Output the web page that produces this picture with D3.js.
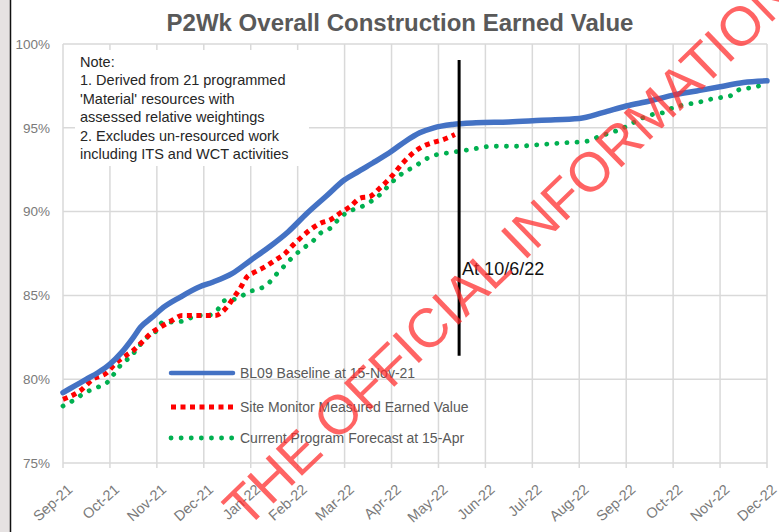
<!DOCTYPE html>
<html>
<head>
<meta charset="utf-8">
<script src="https://cdn.jsdelivr.net/npm/d3@7"></script>
<style>
  body { margin: 0; background: #fff; }
  svg { display: block; font-family: Arial, "Liberation Sans", sans-serif; }
</style>
</head>
<body>
<div id="wrapper"></div>
<script>
// month labels on the x axis (index 0 = Sep-21)
const monthLabels = ["Sep-21", "Oct-21", "Nov-21", "Dec-21", "Jan-22", "Feb-22", "Mar-22", "Apr-22",
  "May-22", "Jun-22", "Jul-22", "Aug-22", "Sep-22", "Oct-22", "Nov-22", "Dec-22"];
const yTicks = [75, 80, 85, 90, 95, 100];

// [month index, percent]
const baseline = [
  [0, 79.2], [0.25, 79.6], [0.5, 80.0], [0.75, 80.4], [1.0, 80.9], [1.25, 81.6], [1.5, 82.5],
  [1.65, 83.1], [1.9, 83.7], [2.1, 84.2], [2.5, 84.9], [2.9, 85.5], [3.2, 85.8], [3.6, 86.3],
  [4.0, 87.1], [4.4, 87.9], [4.8, 88.8], [5.2, 89.9], [5.6, 90.9], [6.0, 91.9], [6.3, 92.4],
  [6.6, 92.9], [7.0, 93.6], [7.3, 94.2], [7.6, 94.7], [7.9, 95.0], [8.3, 95.2], [8.8, 95.3],
  [9.5, 95.35], [10.2, 95.45], [11.0, 95.55], [11.5, 95.9], [12.0, 96.3], [12.5, 96.6],
  [13.0, 96.95], [13.5, 97.2], [14.0, 97.45], [14.5, 97.7], [15.0, 97.8]
];

const siteMonitor = [
  [0, 78.8], [0.36, 79.3], [0.64, 80.0], [0.94, 80.4], [1.07, 80.8], [1.28, 81.3], [1.49, 81.7],
  [1.68, 82.2], [1.9, 82.8], [2.07, 83.1], [2.32, 83.5], [2.54, 83.8], [2.77, 83.8], [2.98, 83.8],
  [3.24, 83.8], [3.49, 84.3], [3.62, 84.8], [3.77, 85.4], [3.92, 86.1], [4.09, 86.4], [4.3, 86.7],
  [4.52, 87.1], [4.73, 87.5], [4.9, 88.0], [5.09, 88.5], [5.26, 88.9], [5.48, 89.3], [5.69, 89.5],
  [5.9, 89.9], [6.12, 90.3], [6.33, 90.8], [6.54, 90.9], [6.75, 91.4], [6.97, 92.0], [7.24, 92.9],
  [7.46, 93.5], [7.67, 93.9], [7.86, 94.1], [8.1, 94.3], [8.35, 94.6]
];

const forecast = [
  [0, 78.4], [0.26, 78.8], [0.47, 79.2], [0.72, 79.5], [0.94, 79.8], [1.11, 80.4], [1.28, 81.0],
  [1.43, 81.3], [1.6, 81.9], [1.79, 82.5], [1.96, 82.8], [2.13, 83.4], [2.34, 83.4], [2.6, 83.5],
  [2.86, 83.8], [3.07, 83.8], [3.28, 84.1], [3.45, 84.7], [3.71, 84.8], [3.94, 85.2], [4.2, 85.4],
  [4.37, 85.7], [4.56, 86.3], [4.73, 86.8], [4.9, 87.3], [5.11, 87.8], [5.31, 88.2], [5.48, 88.7],
  [5.69, 89.0], [5.86, 89.5], [6.07, 90.0], [6.29, 90.2], [6.5, 90.5], [6.75, 91.0], [6.99, 91.7],
  [7.24, 92.3], [7.5, 92.7], [7.71, 93.1], [7.97, 93.4], [8.2, 93.5], [8.67, 93.7], [9.16, 93.9],
  [9.67, 93.9], [10.16, 94.0], [10.65, 94.1], [11.17, 94.2], [11.44, 94.5], [11.66, 94.7],
  [11.87, 94.9], [12.08, 95.2], [12.36, 95.6], [12.57, 95.8], [12.78, 95.9], [13.0, 96.2],
  [13.3, 96.4], [13.51, 96.5], [13.79, 96.7], [14.0, 96.8], [14.21, 96.9], [14.43, 97.3],
  [14.68, 97.4], [14.96, 97.6]
];

const seriesNames = ["BL09 Baseline at 15-Nov-21", "Site Monitor Measured Earned Value",
  "Current Program Forecast at 15-Apr"];
const noteLines = ["Note:", "1. Derived from 21 programmed", "'Material' resources with",
  "assessed relative weightings", "2. Excludes un-resourced work", "including ITS and WCT activities"];

const markerMonth = 8.44;
const markerRange = [81.4, 99.05];
const markerLabel = "At 10/6/22";

const drawChart = () => {
  const dimensions = {
    width: 779,
    height: 532,
    margin: { top: 44, right: 12, bottom: 69, left: 63 },
  };
  dimensions.boundedWidth = dimensions.width - dimensions.margin.left - dimensions.margin.right;
  dimensions.boundedHeight = dimensions.height - dimensions.margin.top - dimensions.margin.bottom;

  const wrapper = d3.select("#wrapper")
    .append("svg")
    .attr("width", dimensions.width)
    .attr("height", dimensions.height);

  // left frame strip
  wrapper.append("rect")
    .attr("x", 0).attr("y", 0).attr("width", 10).attr("height", dimensions.height)
    .attr("fill", "#e6e2e2");
  wrapper.append("line")
    .attr("x1", 10.5).attr("x2", 10.5).attr("y1", 0).attr("y2", dimensions.height)
    .attr("stroke", "#111").attr("stroke-width", 1.5);

  wrapper.append("text")
    .attr("x", 400)
    .attr("y", 31)
    .attr("text-anchor", "middle")
    .style("font-size", "24px")
    .style("font-weight", "bold")
    .attr("fill", "#595959")
    .text("P2Wk Overall Construction Earned Value");

  const bounds = wrapper.append("g")
    .attr("transform", `translate(${dimensions.margin.left},${dimensions.margin.top})`);

  const xScale = d3.scaleLinear()
    .domain([0, monthLabels.length - 1])
    .range([0, dimensions.boundedWidth]);

  const yScale = d3.scaleLinear()
    .domain([75, 100])
    .range([dimensions.boundedHeight, 0]);

  // gridlines
  bounds.append("g")
    .selectAll("line")
    .data(yTicks)
    .join("line")
    .attr("x1", 0)
    .attr("x2", dimensions.boundedWidth)
    .attr("y1", (d) => yScale(d))
    .attr("y2", (d) => yScale(d))
    .attr("stroke", "#d9d9d9")
    .attr("stroke-width", 1.5);

  bounds.append("g")
    .selectAll("line")
    .data(monthLabels)
    .join("line")
    .attr("x1", (d, i) => xScale(i))
    .attr("x2", (d, i) => xScale(i))
    .attr("y1", 0)
    .attr("y2", dimensions.boundedHeight + 5)
    .attr("stroke", "#d9d9d9")
    .attr("stroke-width", 1.5);

  // axis labels
  bounds.append("g")
    .selectAll("text")
    .data(yTicks)
    .join("text")
    .attr("x", -13)
    .attr("y", (d) => yScale(d))
    .attr("dy", "0.35em")
    .attr("text-anchor", "end")
    .attr("fill", "#7a7a7a")
    .style("font-size", "13.5px")
    .text((d) => d + "%");

  bounds.append("g")
    .selectAll("text")
    .data(monthLabels)
    .join("text")
    .attr("transform", (d, i) => `translate(${xScale(i) + 7},${dimensions.boundedHeight + 24}) rotate(-42)`)
    .attr("text-anchor", "end")
    .attr("dy", "0.35em")
    .attr("fill", "#7a7a7a")
    .style("font-size", "14.5px")
    .text((d) => d);

  // note box
  const note = bounds.append("g");
  note.append("rect")
    .attr("x", 12).attr("y", 6).attr("width", 234).attr("height", 116)
    .attr("fill", "#fff");
  note.selectAll("text")
    .data(noteLines)
    .join("text")
    .attr("x", 17)
    .attr("y", (d, i) => 18 + i * 18.4)
    .attr("dy", "0.35em")
    .attr("fill", "#262626")
    .style("font-size", "14.5px")
    .text((d) => d);

  const lineGenerator = d3.line()
    .curve(d3.curveMonotoneX)
    .x((d) => xScale(d[0]))
    .y((d) => yScale(d[1]));

  const styles = [
    { data: baseline, stroke: "#4472c4", width: 5.5, dash: null, cap: "round" },
    { data: siteMonitor, stroke: "#ff0000", width: 5, dash: "5,4.5", cap: "butt" },
    { data: forecast, stroke: "#00b050", width: 4.8, dash: "0.1,10", cap: "round" },
  ];

  // legend
  const legend = bounds.append("g");
  styles.forEach((s, i) => {
    const ly = [329, 363, 394][i];
    legend.append("line")
      .attr("x1", 108).attr("x2", 170)
      .attr("y1", ly).attr("y2", ly)
      .attr("stroke", s.stroke)
      .attr("stroke-width", i === 0 ? 4.5 : s.width)
      .attr("stroke-dasharray", s.dash)
      .attr("stroke-linecap", s.cap);
    legend.append("text")
      .attr("x", 177)
      .attr("y", ly)
      .attr("dy", "0.35em")
      .attr("fill", "#595959")
      .style("font-size", "14px")
      .text(seriesNames[i]);
  });

  // series, forecast underneath
  [2, 1, 0].forEach((i) => {
    const s = styles[i];
    bounds.append("path")
      .attr("d", lineGenerator(s.data))
      .attr("fill", "none")
      .attr("stroke", s.stroke)
      .attr("stroke-width", s.width)
      .attr("stroke-dasharray", s.dash)
      .attr("stroke-linecap", s.cap)
      .attr("stroke-linejoin", "round");
  });

  // status date marker
  bounds.append("line")
    .attr("x1", xScale(markerMonth))
    .attr("x2", xScale(markerMonth))
    .attr("y1", yScale(markerRange[1]))
    .attr("y2", yScale(markerRange[0]))
    .attr("stroke", "#000")
    .attr("stroke-width", 3);

  bounds.append("text")
    .attr("x", xScale(markerMonth) + 3)
    .attr("y", 225)
    .attr("dy", "0.35em")
    .attr("fill", "#111")
    .style("font-size", "18px")
    .text(markerLabel);

  // watermark
  wrapper.append("text")
    .attr("transform", "translate(246,530) rotate(-44)")
    .attr("fill", "rgba(255,40,40,0.72)")
    .style("font-size", "55px")
    .text("THE OFFICIAL INFORMATION");
};

drawChart();
</script>
</body>
</html>
